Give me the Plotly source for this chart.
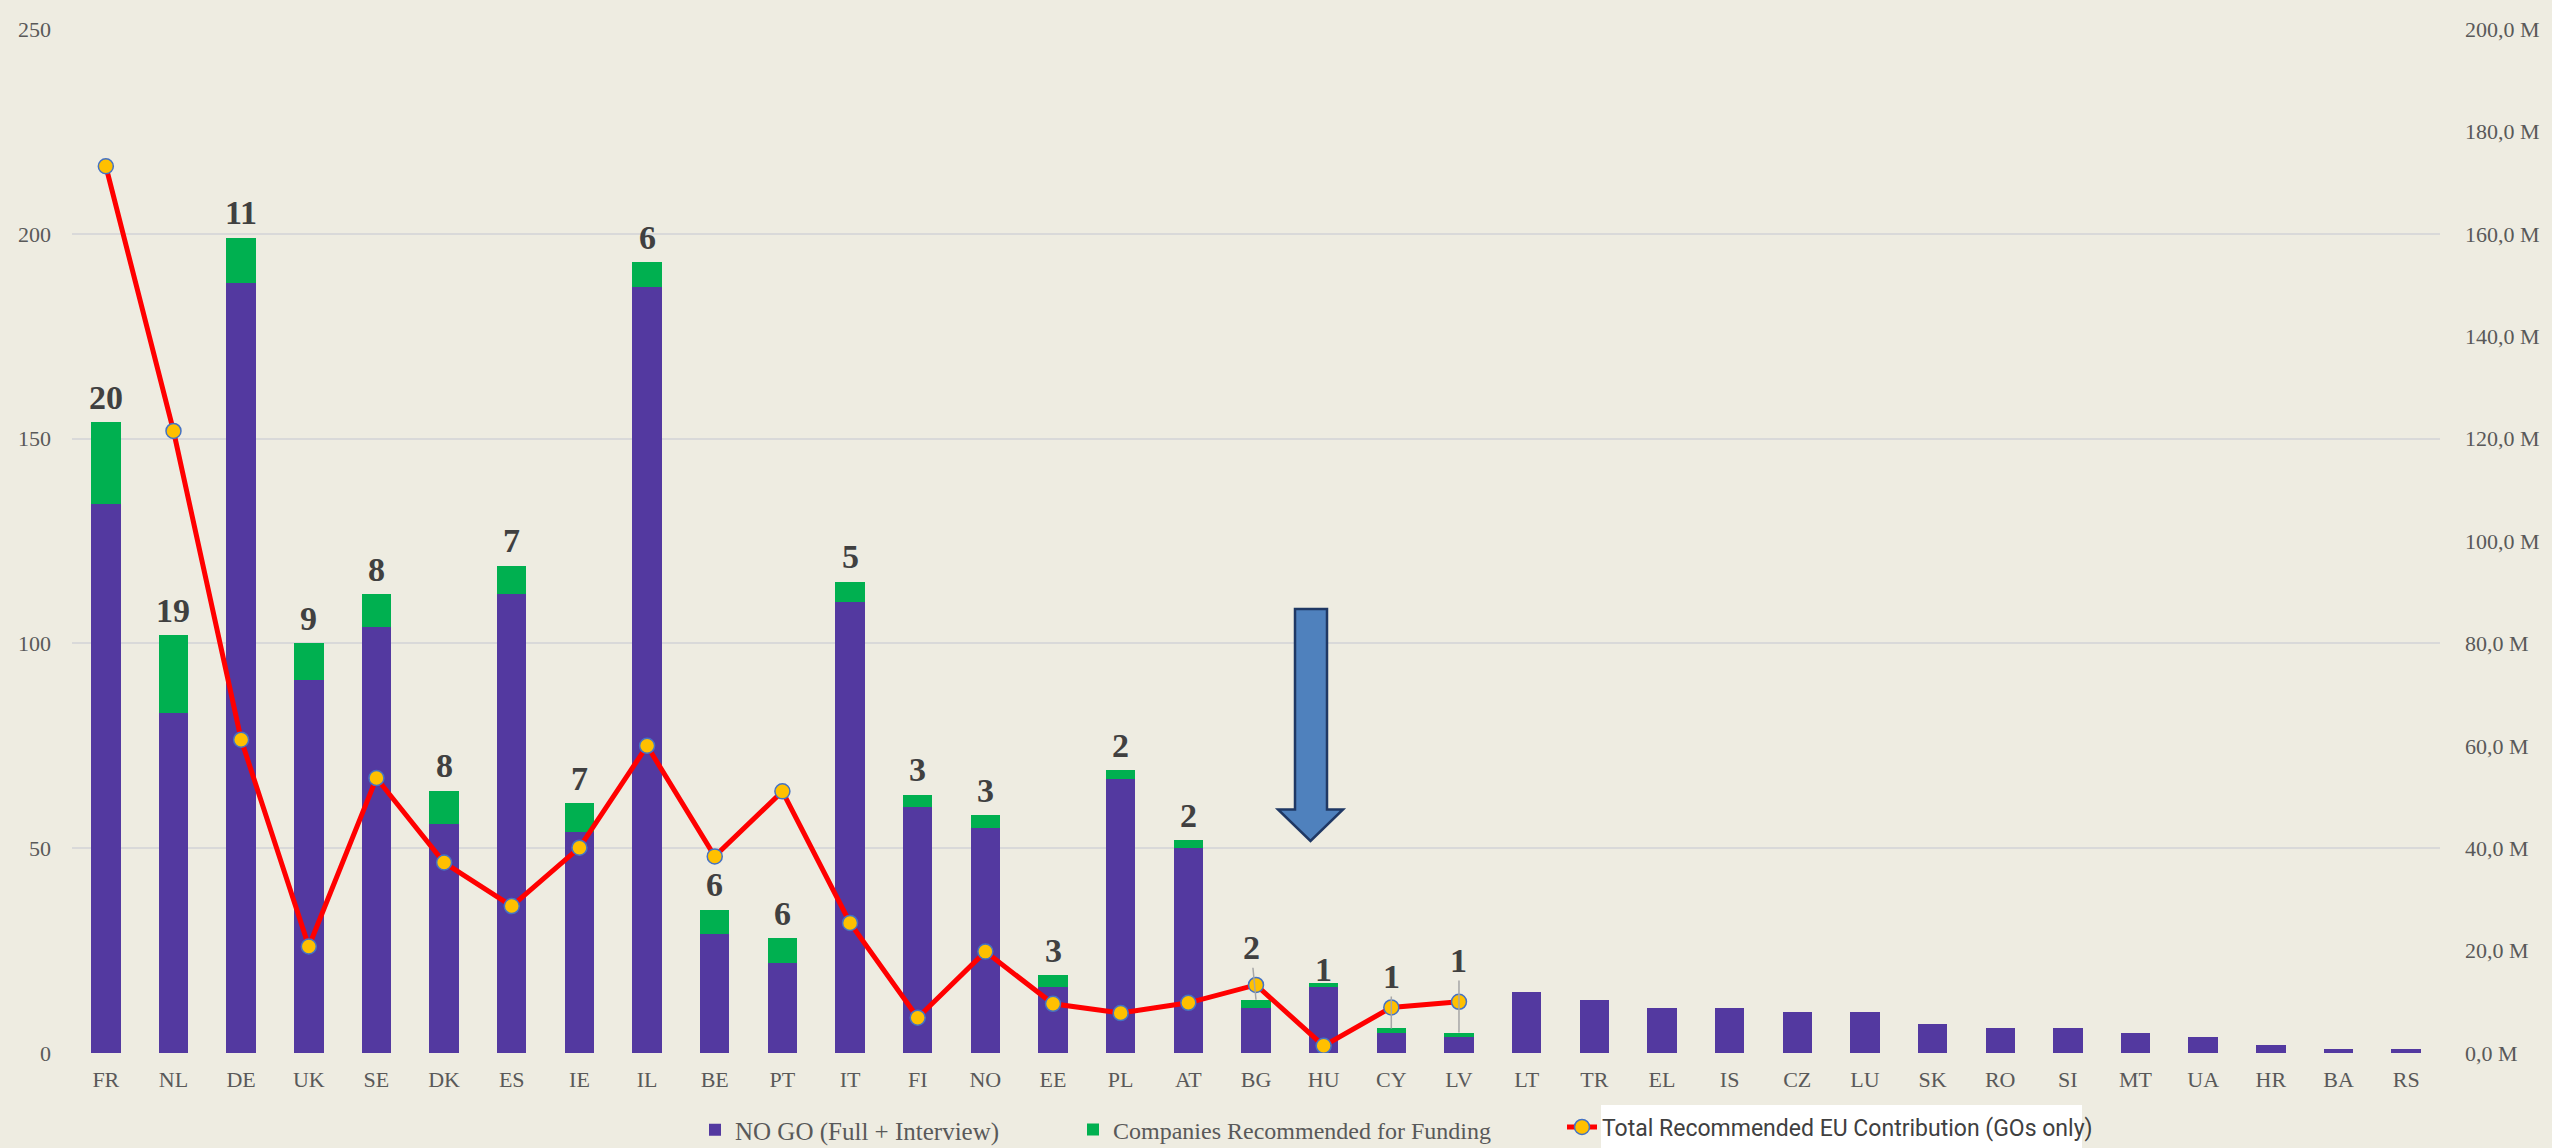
import plotly.graph_objects as go

# ---------------- data ----------------
countries = ["FR", "NL", "DE", "UK", "SE", "DK", "ES", "IE", "IL", "BE", "PT", "IT",
             "FI", "NO", "EE", "PL", "AT", "BG", "HU", "CY", "LV", "LT", "TR", "EL",
             "IS", "CZ", "LU", "SK", "RO", "SI", "MT", "UA", "HR", "BA", "RS"]
no_go = [134, 83, 188, 91, 104, 56, 112, 54, 187, 29, 22, 110,
         60, 55, 16, 67, 50, 11, 16, 5, 4, 15, 13, 11,
         11, 10, 10, 7, 6, 6, 5, 4, 2, 1, 1]
recommended = [20, 19, 11, 9, 8, 8, 7, 7, 6, 6, 6, 5,
               3, 3, 3, 2, 2, 2, 1, 1, 1, 0, 0, 0,
               0, 0, 0, 0, 0, 0, 0, 0, 0, 0, 0]
eu_contribution_m = [173.2, 121.5, 61.2, 20.8, 53.7, 37.2, 28.7, 40.1, 60.0, 38.4, 51.1, 25.4,
                     6.9, 19.8, 9.6, 7.8, 9.8, 13.3, 1.4, 8.9, 10.0, None, None, None,
                     None, None, None, None, None, None, None, None, None, None, None]
left_ticks = [0, 50, 100, 150, 200, 250]
right_ticks = [0, 20, 40, 60, 80, 100, 120, 140, 160, 180, 200]
right_tick_labels = [f"{v},0 M" for v in right_ticks]

# ---------------- style ----------------
BG = "#EEECE1"
PURPLE = "#5339A0"
GREEN = "#00B050"
RED = "#FF0000"
GRID = "#D9D9D9"
TICK = "#595959"
SERIF = "Liberation Serif"

W, H = 2552, 1148
ML, MR, MT, MB = 72, 112, 29, 95
PW, PH = W - ML - MR, H - MT - MB


def px_x(x):
    return (x - ML) / PW


def px_y(y):
    return (H - MB - y) / PH


# label offset (px above bar top) – default and special cases
label_shift_default = 25
label_shift = {"HU": 14, "BG": 52, "CY": 52, "LV": 72}
leader_lines = {"BG": -5, "CY": 0, "LV": 0}

fig = go.Figure()
fig.add_trace(go.Bar(x=countries, y=no_go, name="NO GO (Full + Interview)",
                     marker=dict(color=PURPLE, line=dict(width=0)), legend="legend"))
fig.add_trace(go.Bar(x=countries, y=recommended, name="Companies Recommended for Funding",
                     marker=dict(color=GREEN, line=dict(width=0)), legend="legend3"))
fig.add_trace(go.Scatter(x=countries, y=eu_contribution_m, yaxis="y2",
                         name="Total Recommended EU Contribution (GOs only)",
                         mode="lines+markers", connectgaps=False,
                         line=dict(color=RED, width=5),
                         marker=dict(size=15, color="#FFC000", line=dict(color="#4472C4", width=1.5)),
                         legend="legend2"))

annotations = []
for c, n, r in zip(countries, no_go, recommended):
    if r <= 0:
        continue
    shift = label_shift.get(c, label_shift_default)
    font = dict(family=SERIF, size=34, color="#404040")
    if c in leader_lines:
        annotations.append(dict(x=c, y=n + r, xref="x", yref="y", text=f"<b>{r}</b>",
                                showarrow=True, arrowhead=0, arrowwidth=1.5,
                                arrowcolor="#A6A6A6", ax=leader_lines[c], ay=-shift,
                                standoff=0, font=font))
    else:
        annotations.append(dict(x=c, y=n + r, xref="x", yref="y", text=f"<b>{r}</b>",
                                showarrow=False, yanchor="middle", yshift=shift, font=font))

# block arrow (decoration)
ax_l, ax_r = px_x(1295), px_x(1327)
hd_l, hd_r, tip_x = px_x(1278), px_x(1343), px_x(1310.5)
y_top, y_head, y_tip = px_y(609), px_y(809.5), px_y(841)
arrow_path = (f"M{ax_l},{y_top} L{ax_r},{y_top} L{ax_r},{y_head} L{hd_r},{y_head} "
              f"L{tip_x},{y_tip} L{hd_l},{y_head} L{ax_l},{y_head} Z")

shapes = [
    dict(type="path", xref="paper", yref="paper", path=arrow_path,
         fillcolor="#4F81BD", line=dict(color="#1F3864", width=2.5), layer="above"),
    dict(type="rect", xref="paper", yref="paper",
         x0=px_x(1601), x1=px_x(2082), y0=px_y(1148), y1=px_y(1105),
         fillcolor="white", line=dict(width=0), layer="below"),
]

legend_common = dict(orientation="h", xanchor="left", yanchor="middle",
                     bgcolor="rgba(0,0,0,0)")

fig.update_layout(
    width=W, height=H,
    margin=dict(l=ML, r=MR, t=MT, b=MB, pad=0, autoexpand=False),
    paper_bgcolor=BG, plot_bgcolor=BG,
    barmode="stack", bargap=0.565,
    font=dict(family=SERIF, size=22, color=TICK),
    xaxis=dict(type="category", range=[-0.5, len(countries) - 0.5], autorange=False,
               showgrid=False, zeroline=False, showline=False,
               ticks="", tickfont=dict(family=SERIF, size=22, color=TICK),
               ticklabelstandoff=11),
    yaxis=dict(range=[0, 250], autorange=False, tickvals=left_ticks, showgrid=True, gridcolor=GRID,
               gridwidth=2, zeroline=False, showline=False, ticks="",
               tickfont=dict(family=SERIF, size=22, color=TICK), ticklabelstandoff=20),
    yaxis2=dict(range=[0, 200], autorange=False, overlaying="y", side="right", tickvals=right_ticks,
                ticktext=right_tick_labels, showgrid=False, zeroline=False, showline=False,
                ticks="", tickfont=dict(family=SERIF, size=22, color=TICK),
                ticklabelstandoff=24),
    legend=dict(**legend_common, x=px_x(695), y=px_y(1130),
                font=dict(family=SERIF, size=25, color=TICK)),
    legend3=dict(**legend_common, x=px_x(1073), y=px_y(1130),
                 font=dict(family=SERIF, size=24, color=TICK)),
    legend2=dict(**legend_common, x=px_x(1562), y=px_y(1127),
                 font=dict(family="Roboto", size=23, color="#404040")),
    annotations=annotations,
    shapes=shapes,
    showlegend=True,
)

fig.write_html("out.html", config={"displayModeBar": False},
               post_script="document.body.style.margin='0';document.body.style.overflow='hidden';")
